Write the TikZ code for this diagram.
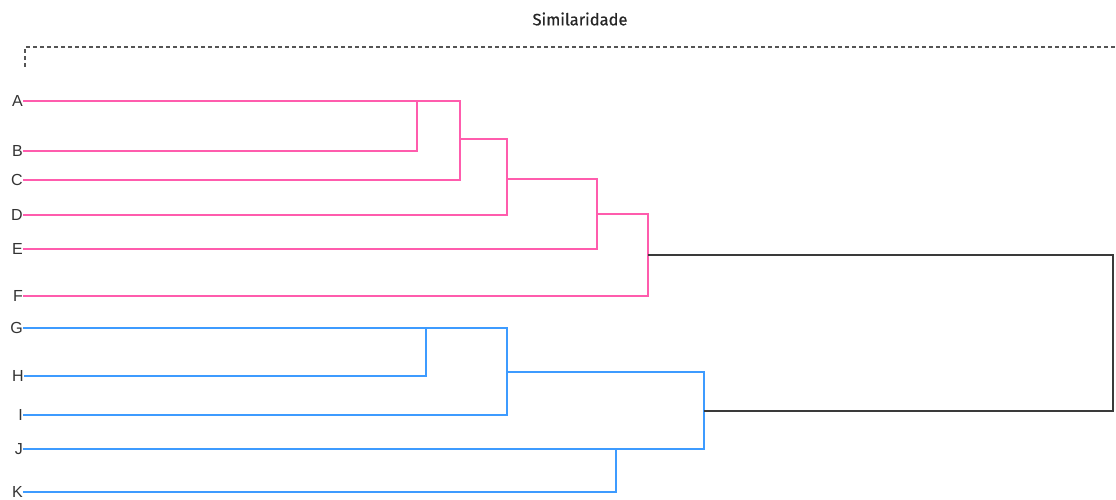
\documentclass[tikz,border=0pt]{standalone}
\usepackage{fontspec}
\setmainfont{Liberation Sans}
\newfontfamily\titlefont[FakeBold=0.6]{Fira Sans}
\definecolor{clpink}{HTML}{FF5CAD}
\definecolor{clblue}{HTML}{3D9BFF}
\definecolor{clroot}{HTML}{3A3A3A}
\definecolor{claxis}{HTML}{555555}
\begin{document}
\begin{tikzpicture}[x=1pt,y=-1pt,
  leaf/.style={anchor=east,inner sep=0pt,font=\fontsize{16}{16}\selectfont,text=black!80},
  pinkbranch/.style={draw=clpink,line width=1.4pt},
  bluebranch/.style={draw=clblue,line width=1.4pt},
  rootbranch/.style={draw=clroot,line width=1.1pt},
  axisline/.style={draw=claxis,line width=1.1pt,dash pattern=on 4pt off 3pt}]
\useasboundingbox (0,0) rectangle (1116,500);

% title and similarity axis
\node[font=\titlefont\fontsize{16.5}{16.5}\selectfont,text=black!85] (title) at (580,19) {Similaridade};
\coordinate (axb) at (25,67);
\coordinate (axc) at (25,47);
\coordinate (axe) at (1116,47);
\draw[axisline] (axb) -- (axc) -- (axe);

% leaf labels
\node[leaf] (A) at (23,101) {A};
\node[leaf] (B) at (23,151) {B};
\node[leaf] (C) at (23,180) {C};
\node[leaf] (D) at (23,215) {D};
\node[leaf] (E) at (23,249) {E};
\node[leaf] (F) at (23,296) {F};
\node[leaf] (G) at (23,328) {G};
\node[leaf] (H) at (24,376) {H};
\node[leaf] (I) at (23,415) {I};
\node[leaf] (J) at (23,449) {J};
\node[leaf] (K) at (23,492) {K};

% merge points
\coordinate (ab) at (417,101);
\coordinate (abc) at (460,139);
\coordinate (abcd) at (507,179);
\coordinate (abcde) at (597,214);
\coordinate (pinkroot) at (648,255);
\coordinate (gh) at (426,328);
\coordinate (ghi) at (507,372);
\coordinate (jk) at (616,449);
\coordinate (blueroot) at (704,411);
\coordinate (top) at (1113,255);

% pink cluster
\draw[pinkbranch] (B.east) -- (B.east -| ab) -- (ab);
\draw[pinkbranch] (A.east) -- (A.east -| abc) -- (C.east -| abc) -- (C.east);
\draw[pinkbranch] (abc) -- (abc -| abcd) |- (D.east);
\draw[pinkbranch] (abcd) -- (abcd -| abcde) |- (E.east);
\draw[pinkbranch] (abcde) -- (abcde -| pinkroot) |- (F.east);

% blue cluster
\draw[bluebranch] (H.east) -- (H.east -| gh) -- (gh);
\draw[bluebranch] (G.east) -- (G.east -| ghi) -- (I.east -| ghi) -- (I.east);
\draw[bluebranch] (ghi) -- (ghi -| blueroot) |- (J.east);
\draw[bluebranch] (K.east) -- (K.east -| jk) -- (jk);

% root link
\draw[rootbranch] (pinkroot) -- (top) |- (blueroot);
\end{tikzpicture}
\end{document}
